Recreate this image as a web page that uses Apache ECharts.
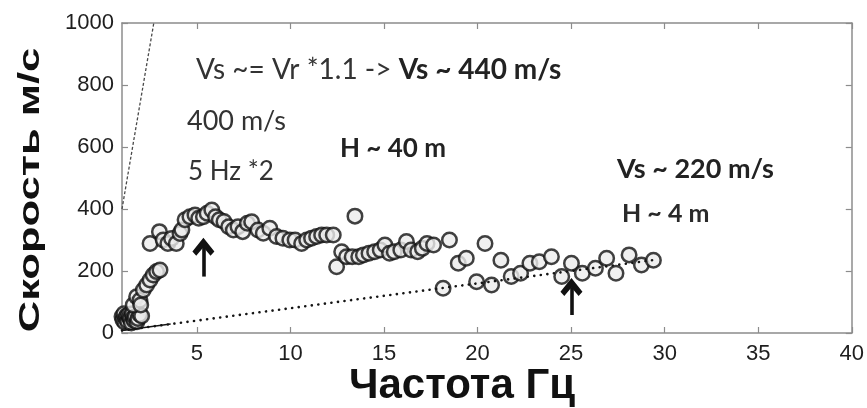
<!DOCTYPE html>
<html>
<head>
<meta charset="utf-8">
<script src="https://cdn.jsdelivr.net/npm/echarts@6/dist/echarts.min.js"></script>
<style>
  html, body { margin: 0; padding: 0; background: #ffffff; }
  #chart { width: 867px; height: 408px; }
</style>
</head>
<body>
<div id="chart"></div>
<script>
// Tick positions of the frequency and velocity axes
const freqTicks = [5, 10, 15, 20, 25, 30, 35, 40];
const velTicks = [0, 200, 400, 600, 800, 1000];

// Dispersion picks [frequency Hz, phase velocity m/s]
const lowFreqPicks = [
  [1.0, 53], [1.05, 42], [1.1, 62], [1.15, 35], [1.2, 48], [1.25, 56], [1.3, 38],
  [1.35, 58], [1.4, 50], [1.45, 45], [1.5, 32], [1.55, 62], [1.6, 48], [1.65, 40],
  [1.7, 52], [1.8, 36], [1.85, 47], [1.95, 60], [2.05, 55]
];
const risingPicks = [
  [1.6, 90], [1.78, 117], [1.96, 106], [2.0, 90], [2.14, 139], [2.32, 155],
  [2.5, 171], [2.67, 187], [2.85, 198], [3.03, 203]
];
const fundamentalPicks = [
  [2.5, 289], [3.0, 327], [3.2, 300], [3.45, 289], [3.65, 305], [3.9, 289],
  [4.1, 321], [4.2, 332], [4.37, 365], [4.63, 375], [4.9, 381], [5.1, 370],
  [5.35, 375], [5.55, 386], [5.8, 397], [6.0, 375], [6.2, 365], [6.45, 360],
  [6.7, 343], [6.95, 332], [7.2, 343], [7.45, 327], [7.7, 354], [7.93, 359],
  [8.27, 332], [8.55, 322], [8.9, 338], [9.26, 311], [9.6, 306], [9.97, 300],
  [10.25, 300], [10.6, 289], [10.87, 300], [11.13, 306], [11.4, 311],
  [11.67, 316], [11.94, 316], [12.29, 316]
];
const upperPicks = [
  [12.47, 214], [12.74, 262], [13.0, 246], [13.3, 246], [13.45, 377],
  [13.65, 246], [13.9, 252], [14.2, 257], [14.5, 262], [14.8, 268],
  [15.05, 284], [15.3, 257], [15.55, 262], [15.9, 268], [16.2, 295],
  [16.45, 268], [16.8, 262], [17.05, 273], [17.3, 289], [17.65, 284],
  [18.16, 144], [18.5, 300], [18.97, 225], [19.4, 241], [19.95, 165],
  [20.4, 289], [20.75, 155], [21.25, 235], [21.8, 182], [22.3, 193],
  [22.8, 225], [23.3, 230], [23.95, 246], [24.5, 182], [25.02, 225],
  [25.6, 193], [26.3, 209], [26.9, 241], [27.4, 193], [28.1, 252],
  [28.76, 219], [29.4, 235]
];

// Reference lines: steep 400 m/s trend and the shallow low-velocity trend
const steepLine = [[1.0, 400], [2.7, 1000]];
const shallowLine = [[1.0, 8], [29.5, 236]];
const shallowLineStart = [[1.0, 8], [3.6, 29]];

// Arrows marking the picked frequencies [frequency, tail velocity, head velocity]
const arrows = [[5.35, 182, 278], [25.02, 58, 148]];

const axisGray = '#8c8c8c';
const labelFont = { color: '#1e1e1e', fontSize: 22, fontFamily: '"Liberation Sans", Arial, sans-serif' };

function boxAxis(extra) {
  return Object.assign({
    type: 'value',
    splitLine: { show: false },
    axisLine: { show: true, onZero: false, lineStyle: { color: axisGray, width: 1.5 } },
    axisTick: { show: true, inside: true, length: 6, lineStyle: { color: axisGray, width: 1.2 } },
    axisLabel: { show: false }
  }, extra);
}

const dotStyle = {
  color: '#ececec',
  borderColor: '#111111',
  borderWidth: 2.5
};

function picks(data) {
  return {
    type: 'scatter',
    data: data,
    symbol: 'circle',
    symbolSize: 14.5,
    itemStyle: dotStyle,
    clip: false,
    z: 2,
    silent: true
  };
}

const chart = echarts.init(document.getElementById('chart'), null, { renderer: 'canvas' });

chart.setOption({
  animation: false,
  backgroundColor: '#ffffff',
  grid: { left: 122, right: 15, top: 23, bottom: 75, containLabel: false },
  xAxis: [
    boxAxis({
      min: 1, max: 40, position: 'bottom',
      axisTick: { show: true, inside: true, length: 6, customValues: freqTicks, lineStyle: { color: axisGray, width: 1.2 } },
      axisLabel: Object.assign({ show: true, margin: 10, customValues: freqTicks }, labelFont)
    }),
    boxAxis({
      min: 1, max: 40, position: 'top',
      axisTick: { show: true, inside: true, length: 6, customValues: freqTicks, lineStyle: { color: axisGray, width: 1.2 } }
    })
  ],
  yAxis: [
    boxAxis({
      min: velTicks[0], max: velTicks[velTicks.length - 1], interval: 200, position: 'left',
      axisLabel: Object.assign({ show: true, margin: 8, formatter: v => String(v) }, labelFont)
    }),
    boxAxis({
      min: velTicks[0], max: velTicks[velTicks.length - 1], interval: 200, position: 'right'
    })
  ],
  series: [
    picks(lowFreqPicks),
    picks(risingPicks),
    picks(fundamentalPicks),
    Object.assign(picks(upperPicks), {
      markLine: {
        silent: true,
        symbol: ['none', 'path://M10,0 L20,11 L16.5,14.5 L10,7.5 L3.5,14.5 L0,11 Z'],
        symbolSize: [22, 18],
        label: { show: false },
        lineStyle: { color: '#111111', width: 3.6, type: 'solid' },
        data: arrows.map(a => [{ coord: [a[0], a[1]] }, { coord: [a[0], a[2]] }])
      }
    }),
    {
      type: 'line', data: steepLine, symbol: 'none', silent: true, z: 3,
      lineStyle: { color: '#4a4a4a', width: 1.3, type: [3, 2] }
    },
    {
      type: 'line', data: shallowLine, symbol: 'none', silent: true, z: 3,
      lineStyle: { color: '#151515', width: 2.6, type: [0.1, 6.5], cap: 'round' }
    },
    {
      type: 'line', data: shallowLineStart, symbol: 'none', silent: true, z: 3,
      lineStyle: { color: '#151515', width: 1.6 }
    }
  ],
  graphic: [
    {
      type: 'text', x: 31, y: 190, rotation: Math.PI / 2, scaleX: 1.45,
      style: { text: 'Скорость м/с', font: 'bold 30px "Liberation Sans", Arial, sans-serif', fill: '#111111', align: 'center', verticalAlign: 'middle' }
    },
    {
      type: 'text', x: 462, y: 386,
      style: { text: 'Частота Гц', font: 'bold 42px "Liberation Sans", Arial, sans-serif', fill: '#111111', align: 'center', verticalAlign: 'middle' }
    },
    {
      type: 'text', x: 196, y: 70,
      style: {
        text: '{a|Vs ~= Vr *1.1 -> }{b|Vs ~ 440 m/s}',
        verticalAlign: 'middle',
        rich: {
          a: { fontFamily: 'Lato', fontSize: 28, fill: '#333333' },
          b: { fontFamily: 'Lato', fontSize: 28, fontWeight: 'bold', fill: '#222222' }
        }
      }
    },
    {
      type: 'text', x: 187, y: 121,
      style: { text: '400 m/s', font: '27px Lato', fill: '#333333', verticalAlign: 'middle' }
    },
    {
      type: 'text', x: 188, y: 172,
      style: { text: '5 Hz *2', font: '26px Lato', fill: '#333333', verticalAlign: 'middle' }
    },
    {
      type: 'text', x: 340, y: 149,
      style: { text: 'H ~ 40 m', font: 'bold 26px Lato', fill: '#222222', verticalAlign: 'middle' }
    },
    {
      type: 'text', x: 617, y: 169,
      style: { text: 'Vs ~ 220 m/s', font: 'bold 27px Lato', fill: '#222222', verticalAlign: 'middle' }
    },
    {
      type: 'text', x: 622, y: 214,
      style: { text: 'H ~ 4 m', font: 'bold 25px Lato', fill: '#2a2a2a', verticalAlign: 'middle' }
    }
  ]
});
</script>
</body>
</html>
